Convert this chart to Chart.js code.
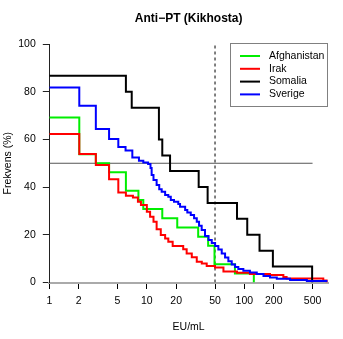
<!DOCTYPE html>
<html>
<head>
<meta charset="utf-8">
<script src="https://cdn.jsdelivr.net/npm/chart.js@4.4.1/dist/chart.umd.min.js"></script>
<style>
  html, body { margin: 0; padding: 0; background: #fff; }
  #wrap { width: 343px; height: 339px; }
</style>
</head>
<body>
<div id="wrap"><canvas id="chart" width="343" height="339"></canvas></div>
<script>
// Reverse cumulative curves: share of samples (%) with Anti-PT >= x EU/mL
const seriesNames = ['Afghanistan', 'Irak', 'Somalia', 'Sverige'];

const afghanistanX = [1, 2.03, 3.0, 4.1, 6.1, 8.2, 9.2, 14.4, 20.5, 33.6, 42.5, 49.4, 80, 125];
const afghanistanY = [69.2, 53.8, 50, 46.2, 38.5, 34.6, 30.8, 26.9, 23.1, 19.2, 15.4, 7.7, 3.8, 0];

const irakX = [1, 2.03, 3.0, 4.1, 5.1, 6.1, 7.2, 8.1, 8.7, 10.0, 10.8, 11.7, 12.6, 13.9, 15.4, 16.6,
               18.4, 23.6, 25.6, 28.9, 32.5, 36.6, 41.1, 50, 61, 84, 114, 183, 251, 271, 644, 697];
const irakY = [62.3, 53.9, 49.3, 43.3, 37.7, 36.4, 35.6, 33.9, 32.5, 29.7, 27.6, 25.5, 22.3, 19.9, 18.5, 17.1,
               15.3, 13.9, 12.2, 10.6, 8.7, 8.0, 6.9, 6.3, 4.6, 4.1, 3.6, 3.1, 2.3, 1.7, 0.8, 0];

const somaliaX = [1, 6.1, 7.0, 13.3, 14.4, 17.3, 34, 42, 84, 107, 143, 196, 495];
const somaliaY = [86.7, 80, 73.3, 60, 53.3, 46.7, 40, 33.3, 26.7, 20, 13.3, 6.7, 0];

const sverigeX = [1, 2.03, 3.0, 4.1, 5.1, 6.05, 7.1, 8.3, 9.2, 10.3, 10.9, 11.2, 11.7, 12.6, 13.4, 14.2,
                  15.4, 16.6, 17.6, 19.0, 21.0, 21.9, 24.7, 26.0, 28.2, 30.5, 32.5, 34.3, 36.5, 39.5, 42.9,
                  46.3, 50.1, 54.1, 58.6, 63.4, 68.5, 74.2, 80.3, 86.7, 97.6, 114, 134, 157, 183, 215, 294, 437, 710];
const sverigeY = [81.8, 74.1, 64.4, 60.2, 56.8, 55.3, 52.4, 51.0, 50.3, 49.7, 48.0, 45.1, 43.0, 40.9, 39.1, 38.1,
                  36.7, 36.0, 34.6, 33.9, 32.9, 31.8, 30.4, 29.3, 28.3, 26.9, 25.5, 23.8, 22.0, 19.5, 17.8,
                  16.6, 15.3, 13.8, 12.2, 10.5, 8.9, 7.5, 6.5, 5.7, 4.9, 4.2, 3.6, 2.7, 2.1, 1.6, 1.0, 0.6, 0.6];

const xTicks = [1, 2, 5, 10, 20, 50, 100, 200, 500];
const yTicks = [0, 20, 40, 60, 80, 100];
const xMin = 1, xMax = 720;

// reference lines: 50 % level and the 50 EU/mL cutoff
const halfLevel = 50;
const halfLineX = [1, 500];
const cutoffX = 50;

const seriesColors = ['#00ee00', '#ff0000', '#000000', '#0000ff'];

const toPoints = (xs, ys) => xs.map((x, i) => ({ x, y: ys[i] }));

const FONT = 'Liberation Sans, Arial, Helvetica, sans-serif';
Chart.defaults.font.family = FONT;
Chart.defaults.font.size = 10.5;
Chart.defaults.color = '#000';

// legend drawn inside the plot, top right, with a grey frame
const legendBox = {
  id: 'legendBox',
  afterDatasetsDraw(chart) {
    const ctx = chart.ctx;
    ctx.save();
    ctx.fillStyle = '#fff';
    ctx.fillRect(230.5, 43.5, 97, 63);
    ctx.strokeStyle = '#808080';
    ctx.lineWidth = 1;
    ctx.strokeRect(230.5, 43.5, 97, 63);
    ctx.font = '10.5px ' + FONT;
    ctx.textBaseline = 'middle';
    seriesNames.forEach((name, i) => {
      const y = 56 + i * 12.8;
      ctx.strokeStyle = seriesColors[i];
      ctx.lineWidth = 2;
      ctx.beginPath();
      ctx.moveTo(240, y);
      ctx.lineTo(260, y);
      ctx.stroke();
      ctx.fillStyle = '#000';
      ctx.fillText(name, 269, y);
    });
    ctx.restore();
  }
};

const curve = (i, xs, ys, order) => ({
  label: seriesNames[i],
  data: toPoints(xs, ys),
  borderColor: seriesColors[i],
  borderWidth: 2,
  pointRadius: 0,
  stepped: 'before',
  fill: false,
  order
});

new Chart(document.getElementById('chart'), {
  type: 'line',
  data: {
    datasets: [
      curve(0, afghanistanX, afghanistanY, 3),
      curve(1, irakX, irakY, 2),
      curve(2, somaliaX, somaliaY, 1),
      curve(3, sverigeX, sverigeY, 0),
      {
        label: 'half',
        data: halfLineX.map(x => ({ x, y: halfLevel })),
        borderColor: '#555',
        borderWidth: 1,
        pointRadius: 0,
        order: 5
      },
      {
        label: 'cutoff',
        data: [{ x: cutoffX, y: yTicks[0] }, { x: cutoffX, y: yTicks[yTicks.length - 1] }],
        borderColor: '#000',
        borderWidth: 1,
        borderDash: [3, 3],
        pointRadius: 0,
        order: 4
      }
    ]
  },
  options: {
    responsive: false,
    animation: false,
    events: [],
    layout: { padding: { left: 0, right: 15, top: 0, bottom: 0 } },
    plugins: {
      legend: { display: false },
      tooltip: { enabled: false },
      title: {
        display: true,
        text: 'Anti−PT (Kikhosta)',
        fullSize: false,
        font: { size: 12, weight: 'bold', family: FONT },
        color: '#000',
        padding: { top: 11, bottom: 18.6 }
      }
    },
    scales: {
      x: {
        type: 'logarithmic',
        min: xMin,
        max: xMax,
        afterFit(scale) { scale.height = 56.5; },
        afterBuildTicks(scale) { scale.ticks = xTicks.map(v => ({ value: v })); },
        ticks: {
          autoSkip: false,
          maxRotation: 0,
          padding: 6,
          callback: v => String(v)
        },
        grid: { drawOnChartArea: false, tickLength: 6.5, tickColor: '#000', tickWidth: 1 },
        border: { display: true, color: '#aaaaaa', width: 2 },
        title: { display: true, text: 'EU/mL', padding: { top: 0, bottom: 6 } }
      },
      y: {
        type: 'linear',
        min: yTicks[0],
        max: yTicks[yTicks.length - 1],
        afterFit(scale) { scale.width = 49.3; },
        afterBuildTicks(scale) { scale.ticks = yTicks.map(v => ({ value: v })); },
        ticks: { padding: 7 },
        grid: { drawOnChartArea: false, tickLength: 6.5, tickColor: '#222', tickWidth: 1 },
        border: { display: true, color: '#222', width: 1 },
        title: { display: true, text: 'Frekvens (%)', padding: { top: 1.7, bottom: 0 } }
      }
    }
  },
  plugins: [legendBox]
});
</script>
</body>
</html>
